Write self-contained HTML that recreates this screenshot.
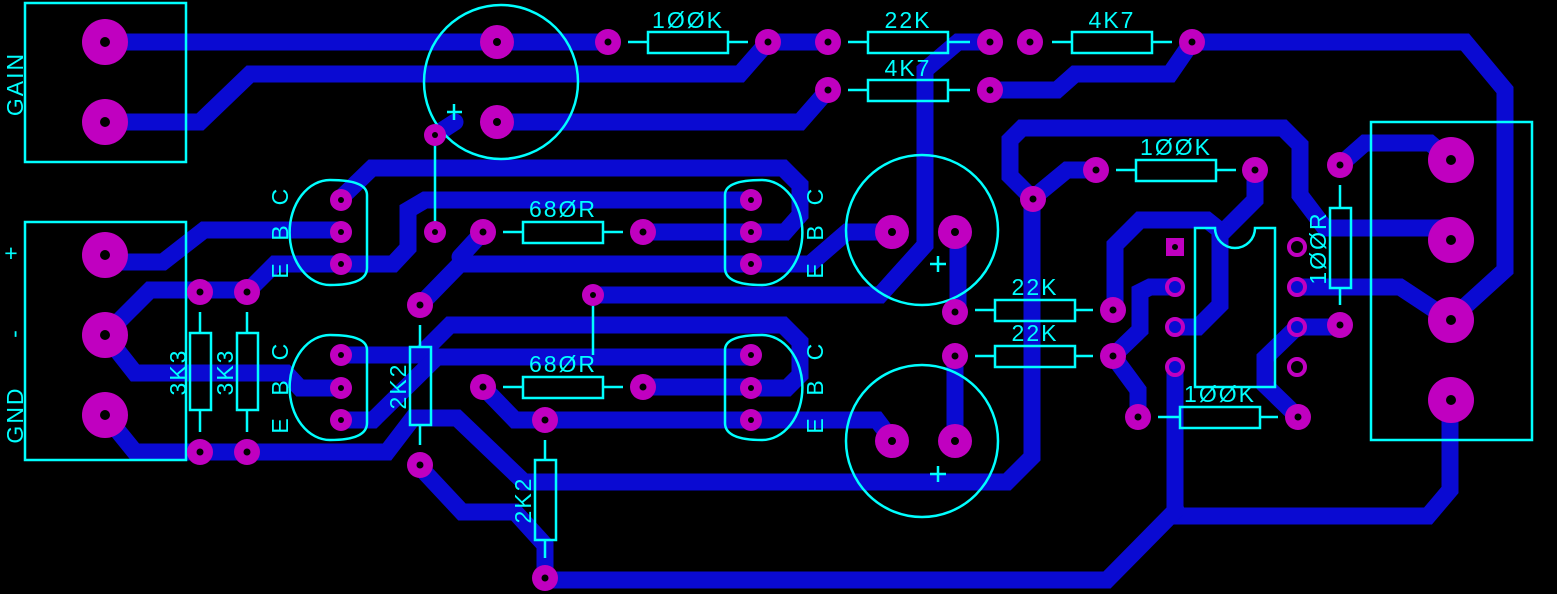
<!DOCTYPE html>
<html><head><meta charset="utf-8"><style>
html,body{margin:0;padding:0;background:#000;}
svg{display:block;}
text{font-family:"Liberation Sans",sans-serif;fill:#00ffff;font-size:23px;letter-spacing:2px;}
</style></head><body>
<svg width="1557" height="594" viewBox="0 0 1557 594" xmlns="http://www.w3.org/2000/svg">
<rect width="1557" height="594" fill="#000"/>
<g fill="none" stroke="#0a0ad2" stroke-width="17" stroke-linejoin="miter" stroke-linecap="round">
<path d="M105,42 H610"/>
<path d="M768,42 H828"/>
<path d="M105,122 H200 L250,74 H740 L768,42"/>
<path d="M497,122 H800 L828,90"/>
<path d="M435,135 L455,122"/>
<path d="M341,198 L372,168 H783 L800,185 V215 L785,232 H751"/>
<path d="M341,264 H393 L408,248 V210 L425,200 H751"/>
<path d="M105,262 H163 L204,230 H341"/>
<path d="M643,232 H751"/>
<path d="M420,305 L460,264 H810 L847,232 H892"/>
<path d="M483,232 L460,257"/>
<path d="M990,42 L958,42 L925,70 V245 L880,295 H592"/>
<path d="M990,90 H1057 L1075,74 H1170 L1192,42"/>
<path d="M1192,42 H1465 L1505,90 V270 L1450,320"/>
<path d="M958,232 V312"/>
<path d="M955,356 V441"/>
<path d="M341,355 H420 L450,325 H783 L800,342 V375 L787,388 H751"/>
<path d="M341,420 H373 L437,357 H751"/>
<path d="M643,387 H751"/>
<path d="M483,387 L515,420 H877 L892,440"/>
<path d="M105,415 L135,452 H387 L413,418 H457 L524,482 H1007 L1032,457 V198 L1010,176 V140 L1022,128 H1283 L1300,145 V195 L1325,228 H1450"/>
<path d="M1096,170 H1067 L1033,198"/>
<path d="M1340,165 L1365,143 H1430 L1450,160"/>
<path d="M1255,170 V200 L1220,235 V305 L1198,327 H1175"/>
<path d="M1115,310 V245 L1140,220 H1207 L1222,232"/>
<path d="M1113,356 L1140,330 V292 L1150,287 H1175"/>
<path d="M1113,356 L1138,390 V417"/>
<path d="M1175,367 V516 H1428 L1450,490 V400"/>
<path d="M1176,510 L1107,580 H545"/>
<path d="M1297,287 H1400 L1450,320"/>
<path d="M1297,327 H1340"/>
<path d="M1297,327 L1265,358 V385 L1298,417"/>
<path d="M105,335 L150,290 H247"/>
<path d="M247,292 L275,264 H341"/>
<path d="M105,335 L135,373 H286 L300,388 H341"/>
<path d="M418,465 L462,512 H515 L545,545 V578"/>
</g>
<g fill="none" stroke="#00ffff" stroke-width="2.5">
<rect x="25" y="3" width="161" height="159"/>
<rect x="25" y="222" width="161" height="238"/>
<rect x="1371" y="122" width="161" height="318"/>
<ellipse cx="501" cy="82" rx="77" ry="77"/>
<ellipse cx="922" cy="230" rx="76" ry="75"/>
<ellipse cx="922" cy="441" rx="76" ry="76"/>
<path d="M367,195 V268 Q367,285 330,285 A40,52 0 0 1 330,180 Q367,180 367,195 Z"/>
<path d="M367,350 V423 Q367,440 330,440 A40,52 0 0 1 330,335 Q367,335 367,350 Z"/>
<path d="M725,195 V268 Q725,285 762,285 A40,52 0 0 0 762,180 Q725,180 725,195 Z"/>
<path d="M725,350 V423 Q725,440 762,440 A40,52 0 0 0 762,335 Q725,335 725,350 Z"/>
<line x1="435" y1="135" x2="435" y2="232"/>
<line x1="593" y1="295" x2="593" y2="355"/>
<path d="M628,42 H648 M728,42 H748"/><rect x="648" y="32" width="80" height="21"/>
<path d="M848,42 H868 M948,42 H970"/><rect x="868" y="32" width="80" height="21"/>
<path d="M1052,42 H1072 M1152,42 H1172"/><rect x="1072" y="32" width="80" height="21"/>
<path d="M848,90 H868 M948,90 H970"/><rect x="868" y="80" width="80" height="21"/>
<path d="M1116,170 H1136 M1216,170 H1236"/><rect x="1136" y="160" width="80" height="21"/>
<path d="M975,310 H995 M1075,310 H1093"/><rect x="995" y="300" width="80" height="21"/>
<path d="M975,356 H995 M1075,356 H1093"/><rect x="995" y="346" width="80" height="21"/>
<path d="M1158,417 H1180 M1260,417 H1278"/><rect x="1180" y="407" width="80" height="21"/>
<path d="M503,232 H523 M603,232 H623"/><rect x="523" y="222" width="80" height="21"/>
<path d="M503,387 H523 M603,387 H623"/><rect x="523" y="377" width="80" height="21"/>
<path d="M200,312 V333 M200,410 V432"/><rect x="190" y="333" width="21" height="77"/>
<path d="M247,312 V333 M247,410 V432"/><rect x="237" y="333" width="21" height="77"/>
<path d="M420,325 V347 M420,425 V445"/><rect x="410" y="347" width="21" height="78"/>
<path d="M545,440 V460 M545,540 V558"/><rect x="535" y="460" width="21" height="80"/>
<path d="M1340,185 V208 M1340,288 V305"/><rect x="1330" y="208" width="21" height="80"/>
<path d="M1195,228 H1215 A20,20 0 0 0 1255,228 H1275 V387 H1195 Z"/>
<path d="M447,112 H462 M454,104 V120"/>
<path d="M930,264 H946 M938,256 V272"/>
<path d="M930,474 H946 M938,466 V482"/>
</g>
<g fill="#c000c0">
<ellipse cx="105" cy="42" rx="23" ry="23"/><ellipse cx="105" cy="122" rx="23" ry="23"/>
<ellipse cx="105" cy="255" rx="23" ry="23"/><ellipse cx="105" cy="335" rx="23" ry="23"/><ellipse cx="105" cy="415" rx="23" ry="23"/>
<ellipse cx="1451" cy="160" rx="23" ry="23"/><ellipse cx="1451" cy="240" rx="23" ry="23"/><ellipse cx="1451" cy="320" rx="23" ry="23"/><ellipse cx="1451" cy="400" rx="23" ry="23"/>
<circle cx="497" cy="42" r="17"/><circle cx="497" cy="122" r="17"/>
<circle cx="892" cy="232" r="17"/><circle cx="955" cy="232" r="17"/>
<circle cx="892" cy="441" r="17"/><circle cx="955" cy="441" r="17"/>
</g>
<g fill="#c000c0">
<circle cx="608" cy="42" r="13"/><circle cx="768" cy="42" r="13"/>
<circle cx="828" cy="42" r="13"/><circle cx="990" cy="42" r="13"/>
<circle cx="1030" cy="42" r="13"/><circle cx="1192" cy="42" r="13"/>
<circle cx="828" cy="90" r="13"/><circle cx="990" cy="90" r="13"/>
<circle cx="1096" cy="170" r="13"/><circle cx="1255" cy="170" r="13"/>
<circle cx="1033" cy="199" r="13"/>
<circle cx="955" cy="312" r="13"/><circle cx="1113" cy="310" r="13"/>
<circle cx="955" cy="356" r="13"/><circle cx="1113" cy="356" r="13"/>
<circle cx="1138" cy="417" r="13"/><circle cx="1298" cy="417" r="13"/>
<circle cx="1340" cy="165" r="13"/><circle cx="1340" cy="325" r="13"/>
<circle cx="483" cy="232" r="13"/><circle cx="643" cy="232" r="13"/>
<circle cx="483" cy="387" r="13"/><circle cx="643" cy="387" r="13"/>
<circle cx="435" cy="135" r="11"/><circle cx="435" cy="232" r="11"/>
<circle cx="593" cy="295" r="11"/>
<circle cx="200" cy="292" r="13"/><circle cx="200" cy="452" r="13"/>
<circle cx="247" cy="292" r="13"/><circle cx="247" cy="452" r="13"/>
<circle cx="420" cy="305" r="13"/><circle cx="420" cy="465" r="13"/>
<circle cx="545" cy="420" r="13"/><circle cx="545" cy="578" r="13"/>
<circle cx="341" cy="200" r="11"/><circle cx="341" cy="232" r="11"/><circle cx="341" cy="264" r="11"/>
<circle cx="341" cy="355" r="11"/><circle cx="341" cy="388" r="11"/><circle cx="341" cy="420" r="11"/>
<circle cx="751" cy="200" r="11"/><circle cx="751" cy="232" r="11"/><circle cx="751" cy="264" r="11"/>
<circle cx="751" cy="355" r="11"/><circle cx="751" cy="388" r="11"/><circle cx="751" cy="420" r="11"/>
<rect x="1166" y="238" width="18" height="18"/>
</g>
<g fill="none" stroke="#c000c0" stroke-width="4">
<circle cx="1175" cy="287" r="8"/><circle cx="1175" cy="327" r="8"/><circle cx="1175" cy="367" r="8"/>
<circle cx="1297" cy="247" r="8"/><circle cx="1297" cy="287" r="8"/><circle cx="1297" cy="327" r="8"/><circle cx="1297" cy="367" r="8"/>
</g>
<g fill="#000">
<circle cx="105" cy="42" r="5"/><circle cx="105" cy="122" r="5"/>
<circle cx="105" cy="255" r="5"/><circle cx="105" cy="335" r="5"/><circle cx="105" cy="415" r="5"/>
<circle cx="1451" cy="160" r="5"/><circle cx="1451" cy="240" r="5"/><circle cx="1451" cy="320" r="5"/><circle cx="1451" cy="400" r="5"/>
<circle cx="497" cy="42" r="4"/><circle cx="497" cy="122" r="4"/>
<circle cx="892" cy="232" r="4"/><circle cx="955" cy="232" r="4"/>
<circle cx="892" cy="441" r="4"/><circle cx="955" cy="441" r="4"/>
<circle cx="608" cy="42" r="3.5"/><circle cx="768" cy="42" r="3.5"/>
<circle cx="828" cy="42" r="3.5"/><circle cx="990" cy="42" r="3.5"/>
<circle cx="1030" cy="42" r="3.5"/><circle cx="1192" cy="42" r="3.5"/>
<circle cx="828" cy="90" r="3.5"/><circle cx="990" cy="90" r="3.5"/>
<circle cx="1096" cy="170" r="3.5"/><circle cx="1255" cy="170" r="3.5"/>
<circle cx="1033" cy="199" r="3.5"/>
<circle cx="955" cy="312" r="3.5"/><circle cx="1113" cy="310" r="3.5"/>
<circle cx="955" cy="356" r="3.5"/><circle cx="1113" cy="356" r="3.5"/>
<circle cx="1138" cy="417" r="3.5"/><circle cx="1298" cy="417" r="3.5"/>
<circle cx="1340" cy="165" r="3.5"/><circle cx="1340" cy="325" r="3.5"/>
<circle cx="483" cy="232" r="3.5"/><circle cx="643" cy="232" r="3.5"/>
<circle cx="483" cy="387" r="3.5"/><circle cx="643" cy="387" r="3.5"/>
<circle cx="435" cy="135" r="3"/><circle cx="435" cy="232" r="3"/><circle cx="593" cy="295" r="3"/>
<circle cx="200" cy="292" r="3.5"/><circle cx="200" cy="452" r="3.5"/>
<circle cx="247" cy="292" r="3.5"/><circle cx="247" cy="452" r="3.5"/>
<circle cx="420" cy="305" r="3.5"/><circle cx="420" cy="465" r="3.5"/>
<circle cx="545" cy="420" r="3.5"/><circle cx="545" cy="578" r="3.5"/>
<circle cx="341" cy="200" r="3"/><circle cx="341" cy="232" r="3"/><circle cx="341" cy="264" r="3"/>
<circle cx="341" cy="355" r="3"/><circle cx="341" cy="388" r="3"/><circle cx="341" cy="420" r="3"/>
<circle cx="751" cy="200" r="3"/><circle cx="751" cy="232" r="3"/><circle cx="751" cy="264" r="3"/>
<circle cx="751" cy="355" r="3"/><circle cx="751" cy="388" r="3"/><circle cx="751" cy="420" r="3"/>
<circle cx="1175" cy="247" r="3"/>
</g>
<text x="688" y="28" text-anchor="middle">1ØØK</text>
<text x="908" y="28" text-anchor="middle">22K</text>
<text x="1112" y="28" text-anchor="middle">4K7</text>
<text x="908" y="76" text-anchor="middle">4K7</text>
<text x="1176" y="155" text-anchor="middle">1ØØK</text>
<text x="1035" y="295" text-anchor="middle">22K</text>
<text x="1035" y="341" text-anchor="middle">22K</text>
<text x="1220" y="402" text-anchor="middle">1ØØK</text>
<text x="563" y="217" text-anchor="middle">68ØR</text>
<text x="563" y="372" text-anchor="middle">68ØR</text>
<text transform="translate(186,372) rotate(-90)" text-anchor="middle">3K3</text>
<text transform="translate(233,372) rotate(-90)" text-anchor="middle">3K3</text>
<text transform="translate(406,386) rotate(-90)" text-anchor="middle">2K2</text>
<text transform="translate(531,500) rotate(-90)" text-anchor="middle">2K2</text>
<text transform="translate(1326,248) rotate(-90)" text-anchor="middle">1ØØR</text>
<text transform="translate(23,84) rotate(-90)" text-anchor="middle">GAIN</text>
<text transform="translate(23,415) rotate(-90)" text-anchor="middle">GND</text>
<text transform="translate(22,333) rotate(-90)" text-anchor="middle">-</text>
<text x="12" y="261" text-anchor="middle">+</text>
<text transform="translate(288,196) rotate(-90)" text-anchor="middle">C</text>
<text transform="translate(288,232) rotate(-90)" text-anchor="middle">B</text>
<text transform="translate(288,270) rotate(-90)" text-anchor="middle">E</text>
<text transform="translate(288,351) rotate(-90)" text-anchor="middle">C</text>
<text transform="translate(288,387) rotate(-90)" text-anchor="middle">B</text>
<text transform="translate(288,425) rotate(-90)" text-anchor="middle">E</text>
<text transform="translate(823,196) rotate(-90)" text-anchor="middle">C</text>
<text transform="translate(823,232) rotate(-90)" text-anchor="middle">B</text>
<text transform="translate(823,270) rotate(-90)" text-anchor="middle">E</text>
<text transform="translate(823,351) rotate(-90)" text-anchor="middle">C</text>
<text transform="translate(823,387) rotate(-90)" text-anchor="middle">B</text>
<text transform="translate(823,425) rotate(-90)" text-anchor="middle">E</text>
</svg>
</body></html>
